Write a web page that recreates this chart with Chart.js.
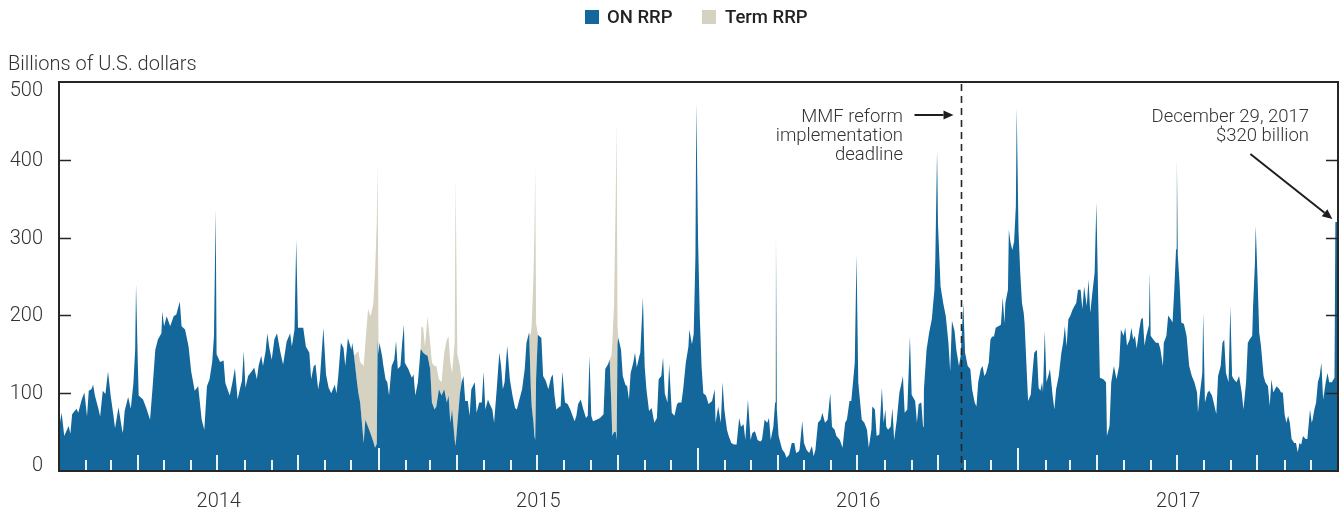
<!DOCTYPE html>
<html>
<head>
<meta charset="utf-8">
<title>ON RRP and Term RRP</title>
<script src="https://cdn.jsdelivr.net/npm/chart.js@4.4.1/dist/chart.umd.min.js"></script>
<style>
  html, body { margin: 0; padding: 0; background: #fff; }
  body { width: 1340px; height: 514px; position: relative; overflow: hidden; font-family: Roboto, "Noto Sans", sans-serif; color: #333; }
  #chart { position: absolute; left: 0; top: 0; }
  .box { position: absolute; top: 10px; width: 14px; height: 14px; }
  .key { position: absolute; top: 7px; font-size: 18.5px; line-height: 20px; font-weight: 500; color: #222; white-space: nowrap; }
  .unit { position: absolute; left: 8px; top: 51px; font-size: 20px; line-height: 24px; font-weight: 300; white-space: nowrap; }
  .note { position: absolute; text-align: right; font-size: 18.5px; font-weight: 300; white-space: nowrap; color: #333; }
</style>
</head>
<body>
<canvas id="chart" width="1340" height="514"></canvas>

<div class="box" style="left:585px;background:#13679b"></div>
<div class="key" style="left:607px">ON RRP</div>
<div class="box" style="left:702px;background:#d5d2c1"></div>
<div class="key" style="left:725px">Term RRP</div>

<div class="unit">Billions of U.S. dollars</div>
<div class="note" style="right:437px;top:107px;line-height:19px">MMF reform<br>implementation<br>deadline</div>
<div class="note" style="right:31px;top:107px;line-height:19.4px">December 29, 2017<br>$320 billion</div>

<script>
// days counted from Jan 1, 2014
const days = [
  1, 3, 6, 11, 13, 15, 20, 22, 26, 29, 32, 34, 37, 39, 41, 45, 47, 50, 53, 56, 59, 62, 64, 68, 72, 73, 75, 79, 82, 85,
  87, 88, 90, 91, 96, 100, 104, 107, 110, 113, 117, 118, 120, 123, 127, 131, 134, 138, 140, 144, 148, 151, 155, 159,
  163, 166, 169, 172, 175, 177, 179, 180, 184, 188, 190, 195, 198, 201, 204, 207, 209, 211, 213, 216, 220, 223, 226,
  228, 231, 233, 236, 238, 240, 243, 246, 249, 253, 256, 260, 264, 266, 269, 271, 273, 279, 282, 286, 288, 291, 293,
  296, 298,
  302, 305, 308, 311, 315, 317, 319, 322, 325, 327, 330, 334, 335, 337, 340, 342, 344, 348, 350, 353, 356, 359, 361,
  363, 364, 365, 366, 369, 370, 373, 375, 377, 380, 383, 385, 387, 390, 392, 394, 395, 399, 403, 405, 407, 410, 413,
  414, 416, 418, 421, 424, 426, 429, 431, 434, 437, 440, 443, 445, 447, 449, 452, 453, 455, 458, 460, 462, 464, 467,
  469, 471, 475, 477, 480, 483, 485, 487, 490, 492, 495, 497, 500, 503, 505, 507, 509, 512, 515, 518, 521, 523, 525,
  529, 532, 534, 537, 539, 540, 542, 543, 544, 545, 547, 551, 553, 556, 559, 562, 564, 566, 568, 572, 573, 575, 578,
  581, 584, 586, 589, 591, 593,
  596, 599, 602, 604, 606, 608, 610, 614, 618, 622, 624, 627, 629, 631, 632, 634, 636, 637, 638, 639, 642, 644, 647,
  649, 651, 653, 656, 658, 660, 663, 664, 667, 669, 671, 674, 677, 680, 683, 685, 688, 690, 692, 695, 697, 700, 703,
  706, 708, 711, 713, 716, 719, 720, 723, 725, 727, 728, 730, 732, 734, 736, 739, 742, 744, 746, 749, 750, 753, 756,
  758, 760, 763, 765, 768, 771, 774, 777, 779, 782, 784, 787, 790, 792, 795, 798, 801, 803, 806, 809, 811, 813, 816,
  818, 819, 820, 822, 826, 829, 831, 834, 837, 840, 842, 845, 846, 849, 851, 854, 857, 860, 862, 864, 867, 870, 872,
  875, 878, 881, 883, 886, 888, 892,
  895, 898, 900, 903, 905, 907, 909, 911, 913, 917, 920, 923, 925, 928, 929, 932, 934, 937, 940, 942, 944, 945, 947,
  950, 952, 954, 957, 960, 962, 964, 966, 969, 972, 974, 978, 980, 982, 985, 987, 988, 991, 994, 997, 1000, 1001,
  1003, 1004, 1007, 1010, 1013, 1016, 1018, 1020, 1023, 1025, 1028, 1030, 1033, 1035, 1038, 1041, 1043, 1046, 1048,
  1050, 1053, 1055, 1057, 1059, 1062, 1064, 1066, 1068, 1070, 1073, 1076, 1078, 1080, 1081, 1084, 1085, 1087, 1089,
  1091, 1093, 1094, 1096, 1098, 1100, 1102, 1103, 1105, 1107, 1110, 1112, 1114, 1117, 1119, 1121, 1123, 1124, 1126,
  1128, 1130, 1132, 1135, 1137, 1139, 1142, 1145, 1147, 1149, 1151, 1153, 1155, 1158, 1160, 1162, 1164, 1167, 1169,
  1171, 1174, 1176, 1178, 1180, 1183, 1185,
  1187, 1189, 1193, 1196, 1197, 1200, 1202, 1205, 1208, 1211, 1213, 1216, 1218, 1220, 1223, 1225, 1227, 1229, 1231,
  1234, 1236, 1238, 1240, 1242, 1245, 1246, 1247, 1250, 1253, 1256, 1258, 1261, 1262, 1265, 1267, 1270, 1272, 1274,
  1276, 1277, 1278, 1280, 1282, 1285, 1288, 1291, 1294, 1297, 1300, 1301, 1303, 1306, 1307, 1309, 1312, 1314, 1317,
  1319, 1322, 1324, 1327, 1329, 1331, 1333, 1336, 1338, 1340, 1342, 1345, 1348, 1351, 1353, 1356, 1358, 1360, 1363,
  1364, 1366, 1367, 1369, 1371, 1373, 1376, 1378, 1381, 1383, 1385, 1387, 1389, 1391, 1394, 1396, 1398, 1400, 1402,
  1404, 1406, 1408, 1411, 1413, 1415, 1417, 1419, 1421, 1424, 1426, 1429, 1431, 1432, 1434, 1436, 1438, 1440, 1442,
  1444, 1447, 1449, 1451, 1454, 1456, 1457, 1458, 1460
];

const onRRP = [
  62, 75, 45, 58, 48, 73, 80, 75, 92, 101, 70, 103, 105, 111, 97, 80, 70, 103, 99, 128, 97, 73, 55, 82, 53, 49, 77, 95, 80, 113,
  156, 240, 140, 97, 92, 80, 66, 109, 156, 169, 177, 205, 186, 199, 186, 199, 201, 218, 186, 182, 160, 128, 103, 109,
  66, 53, 109, 118, 140, 173, 336, 150, 140, 142, 113, 97, 113, 132, 92, 107, 116, 154, 107, 122, 128, 133, 118,
  135, 148, 135, 154, 177, 160, 143, 169, 177, 152, 137, 166, 177, 160, 182, 297, 184, 184, 160, 152, 118, 135, 137,
  105, 118,
  184, 124, 107, 100, 111, 100, 122, 165, 158, 135, 171, 156, 165, 148, 118, 100, 88, 36, 66, 57, 48, 38, 30,
  35, 169, 150, 165, 148, 139, 118, 114, 97, 135, 143, 167, 131, 135, 165, 188, 139, 131, 120, 124, 97, 114, 156,
  156, 152, 150, 148, 131, 88, 79, 83, 105, 97, 105, 88, 97, 62, 79, 40, 32, 60, 100, 114, 122, 90, 90,
  71, 105, 114, 75, 88, 88, 128, 79, 92, 86, 79, 62, 105, 152, 135, 105, 114, 161, 118, 97, 81, 79, 88,
  105, 131, 165, 178, 105, 83, 62, 45, 40, 120, 175, 171, 122, 116, 105, 120, 124, 97, 79, 83, 83, 128, 88,
  86, 79, 73, 64, 71, 86,
  92, 79, 68, 71, 148, 71, 64, 66, 68, 73, 131, 137, 143, 83, 45, 50, 50, 40, 165, 171, 156, 122, 111,
  109, 92, 126, 139, 152, 133, 148, 152, 223, 135, 105, 77, 81, 62, 68, 118, 122, 146, 100, 88, 137, 75, 71,
  86, 88, 88, 105, 139, 160, 182, 163, 176, 276, 473, 297, 197, 135, 100, 97, 86, 88, 90, 105, 62, 83, 62,
  114, 79, 53, 45, 36, 34, 34, 68, 57, 60, 40, 92, 40, 49, 51, 40, 38, 40, 66, 62, 68, 40, 57,
  88, 302, 79, 45, 28, 23, 17, 21, 36, 36, 23, 25, 28, 64, 36, 27, 23, 32, 19, 27, 62, 66, 75,
  62, 66, 100, 57, 53, 45, 40,
  30, 62, 66, 90, 90, 114, 139, 278, 114, 66, 62, 53, 30, 53, 83, 79, 45, 47, 107, 62, 79, 57, 53,
  57, 81, 40, 66, 101, 111, 122, 75, 79, 173, 98, 90, 62, 86, 88, 57, 105, 156, 178, 195, 233, 272,
  411, 319, 237, 216, 199, 165, 128, 193, 180, 156, 135, 148, 216, 152, 135, 131, 105, 88, 83,
  114, 131, 135, 122, 126, 139, 169, 173, 173, 184, 186, 188, 223, 190, 216, 233, 310, 293, 284,
  295, 340, 467, 310, 255, 216, 203, 190, 139, 90, 98, 126, 152, 156, 107, 103, 114, 101, 180,
  114, 122, 131, 97, 79, 105, 122, 152, 165, 186, 160, 195, 199, 208, 212, 216, 233, 233, 208,
  237, 212, 246, 203, 225, 255, 345,
  225, 120, 118, 114, 45, 58, 114, 135, 118, 135, 182, 174, 184, 161, 169, 184, 169, 174, 157,
  182, 195, 197, 161, 174, 187, 255, 174, 169, 165, 165, 157, 135, 165, 174, 200, 195, 191, 234,
  285, 399, 277, 242, 191, 189, 174, 135, 122, 114, 101, 75, 97, 126, 204, 88, 101, 103, 97,
  88, 73, 122, 135, 165, 169, 126, 114, 212, 122, 118, 114, 122, 101, 79, 114, 165, 169, 174,
  212, 264, 315, 251, 178, 161, 122, 114, 109, 84, 118, 101, 105, 109, 105, 101, 101, 73, 62,
  71, 62, 41, 36, 36, 24, 36, 34, 45, 41, 41, 79, 62, 66, 79, 88, 114, 122, 139,
  92, 114, 126, 114, 114, 118, 120, 320, 320
];

// Term RRP, only on the days it was outstanding
const termDays = [
  340, 342, 344, 348, 350, 353, 356, 359, 361, 363, 364,
  414, 416, 418, 421, 424, 426, 429, 431, 434, 437, 440, 443, 445, 447, 449, 452, 453, 455, 458,
  539, 540, 542, 543, 544, 545,
  631, 632, 634, 636, 637, 638
];
const termRRP = [
  34, 54, 52, 99, 99, 151, 151, 177, 225, 284, 225,
  30, 32, 10, 51, 34, 51, 56, 52, 13, 17, 47, 81, 76, 77, 47, 125, 343, 90, 35,
  70, 107, 188, 257, 350, 70,
  65, 120, 162, 306, 407, 20
];

const years = ["2014", "2015", "2016", "2017"];
const yTicks = [0, 100, 200, 300, 400, 500];
const mmfDeadlineDay = 1030;
const lastDay = 1458; // December 29, 2017

const BLUE = "#13679b";
const BEIGE = "#d5d2c1";
const INK = "#262626";

const dayOf = (y, m) => (Date.UTC(y, m, 1) - Date.UTC(2014, 0, 1)) / 864e5;
const yearMid = years.map((y) => (dayOf(+y, 0) + dayOf(+y + 1, 0)) / 2);

const termByDay = new Map(termDays.map((d, i) => [d, termRRP[i]]));
const onData = days.map((d, i) => ({ x: d, y: onRRP[i] }));
const termData = days.map((d) => ({ x: d, y: termByDay.get(d) || 0 }));

function arrow(ctx, x1, y1, x2, y2) {
  const ang = Math.atan2(y2 - y1, x2 - x1);
  const hl = 10, hw = 4.5;
  const bx = x2 - hl * Math.cos(ang), by = y2 - hl * Math.sin(ang);
  ctx.beginPath();
  ctx.moveTo(x1, y1);
  ctx.lineTo(bx, by);
  ctx.stroke();
  ctx.beginPath();
  ctx.moveTo(x2, y2);
  ctx.lineTo(bx + hw * Math.sin(ang), by - hw * Math.cos(ang));
  ctx.lineTo(bx - hw * Math.sin(ang), by + hw * Math.cos(ang));
  ctx.closePath();
  ctx.fill();
}

// frame, inner ticks, month marks, y labels, annotations
const decorations = {
  id: "decorations",
  afterDatasetsDraw(chart) {
    const { ctx, chartArea: a, scales } = chart;
    const x = scales.x, y = scales.y;
    ctx.save();

    // white month marks along the bottom
    ctx.strokeStyle = "rgba(255,255,255,0.92)";
    ctx.lineWidth = 2;
    for (let yr = 2014; yr <= 2017; yr++) {
      for (let m = 0; m < 12; m++) {
        if (yr === 2014 && m === 0) continue;
        const px = Math.round(x.getPixelForValue(dayOf(yr, m)));
        const len = m === 0 ? 23 : m % 3 === 0 ? 16 : 11;
        ctx.beginPath();
        ctx.moveTo(px, a.bottom);
        ctx.lineTo(px, a.bottom - len);
        ctx.stroke();
      }
    }

    // dashed deadline line
    const dx = Math.round(x.getPixelForValue(mmfDeadlineDay)) + 0.5;
    ctx.strokeStyle = INK;
    ctx.lineWidth = 1.6;
    ctx.setLineDash([7, 5]);
    ctx.beginPath();
    ctx.moveTo(dx, a.top + 2);
    ctx.lineTo(dx, a.bottom);
    ctx.stroke();
    ctx.setLineDash([]);

    // frame
    ctx.strokeStyle = INK;
    ctx.lineWidth = 2;
    ctx.strokeRect(a.left, a.top, a.right - a.left, a.bottom - a.top);

    // inner ticks left and right
    ctx.lineWidth = 1.6;
    yTicks.slice(1, -1).forEach((v) => {
      const py = Math.round(y.getPixelForValue(v)) + 0.5;
      ctx.beginPath();
      ctx.moveTo(a.left, py);
      ctx.lineTo(a.left + 12, py);
      ctx.moveTo(a.right, py);
      ctx.lineTo(a.right - 12, py);
      ctx.stroke();
    });

    // y labels
    ctx.fillStyle = "#333";
    ctx.font = "300 20px Roboto";
    ctx.textAlign = "right";
    ctx.textBaseline = "middle";
    yTicks.forEach((v) => {
      let py = y.getPixelForValue(v) + 1;
      py = Math.min(Math.max(py, a.top + 9), a.bottom - 5);
      ctx.fillText(String(v), a.left - 16, py);
    });

    // arrows
    ctx.strokeStyle = "#1e1e1e";
    ctx.fillStyle = "#1e1e1e";
    ctx.lineWidth = 2;
    arrow(ctx, dx - 47, 115, dx - 8, 115);
    const ex = x.getPixelForValue(lastDay);
    const ey = y.getPixelForValue(onRRP[days.indexOf(lastDay)]);
    arrow(ctx, ex - 85, ey - 68, ex - 3, ey - 3);

    ctx.restore();
  },
};

new Chart(document.getElementById("chart"), {
  type: "line",
  data: {
    datasets: [
      {
        label: "ON RRP",
        data: onData,
        backgroundColor: BLUE,
        borderColor: "transparent",
        borderWidth: 0,
        pointRadius: 0,
        tension: 0,
        fill: "origin",
      },
      {
        label: "Term RRP",
        data: termData,
        backgroundColor: BEIGE,
        borderColor: "transparent",
        borderWidth: 0,
        pointRadius: 0,
        tension: 0,
        fill: "-1",
      },
    ],
  },
  options: {
    responsive: false,
    animation: false,
    events: [],
    layout: { padding: { left: 8, top: 82, right: 2, bottom: 0 } },
    plugins: {
      legend: { display: false },
      tooltip: { enabled: false },
    },
    scales: {
      x: {
        type: "linear",
        min: 0,
        max: 1461,
        grid: { display: false, drawTicks: false },
        border: { display: false },
        afterBuildTicks: (axis) => {
          axis.ticks = yearMid.map((v) => ({ value: v }));
        },
        afterFit: (axis) => {
          axis.height = 43;
        },
        ticks: {
          autoSkip: false,
          maxRotation: 0,
          padding: 19,
          color: "#333",
          font: { family: "Roboto", size: 20, weight: "300" },
          callback: (v, i) => years[i],
        },
      },
      y: {
        stacked: true,
        min: 0,
        max: 500,
        grid: { display: false, drawTicks: false },
        border: { display: false },
        ticks: { display: false, stepSize: 100 },
        afterFit: (axis) => {
          axis.width = 51;
        },
      },
    },
  },
  plugins: [decorations],
});
</script>
</body>
</html>
